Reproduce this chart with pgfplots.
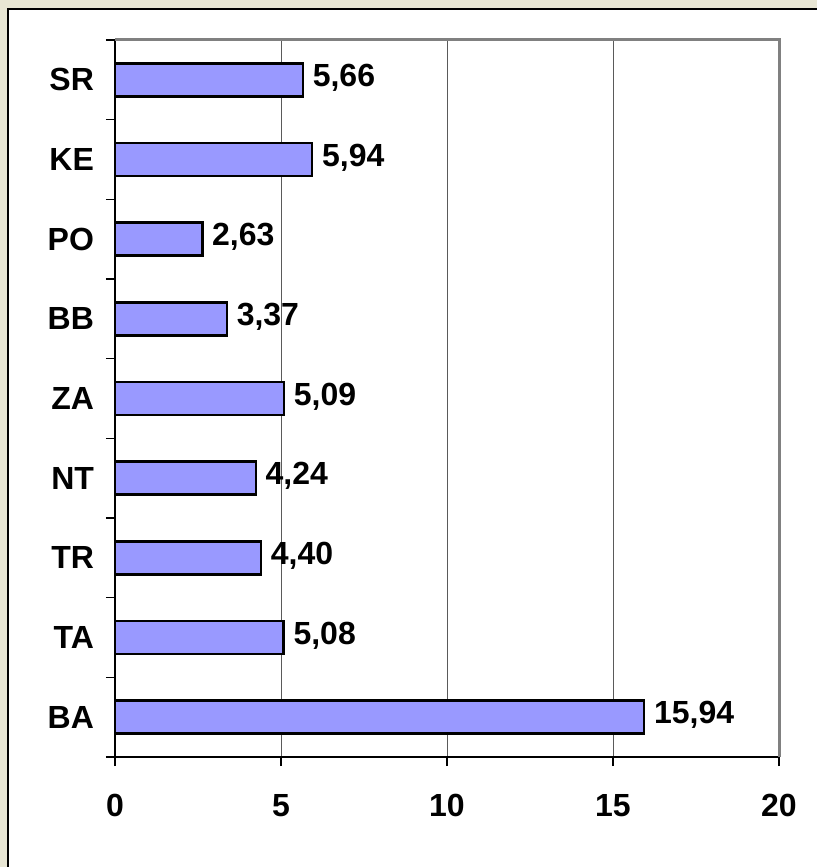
\documentclass[border=0pt]{standalone}
\usepackage{pgfplots}
\pgfplotsset{compat=1.18}
\usepackage{fontspec}
\setmainfont{Liberation Sans}
\definecolor{bgbeige}{RGB}{232,230,212}
\definecolor{barfill}{RGB}{153,153,255}
\definecolor{gridgray}{RGB}{90,90,90}
\definecolor{framegray}{RGB}{128,128,128}
\newcommand\lbl{\fontsize{16}{19}\selectfont\bfseries}
\begin{document}
\begin{tikzpicture}
% slide background and white chart box
\fill[bgbeige] (-57.5pt,-55pt) rectangle (351pt,378.5pt);
\fill[white] (-53.5pt,-55pt) rectangle (351pt,374pt);
\draw[black,line width=0.9pt] (-53.5pt,-56pt) -- (-53.5pt,374pt) -- (352pt,374pt);
\begin{axis}[at={(0,0)},anchor=south west,scale only axis,width=332pt,height=358.5pt,
  xbar,bar width=16.5pt,xmin=0,xmax=20,ymin=-0.5,ymax=8.5,
  xtick={0,5,10,15,20},ytick={-0.5,0.5,...,8.5},yticklabels={},
  extra y ticks={0,1,2,3,4,5,6,7,8},
  extra y tick labels={BA,TA,TR,NT,ZA,BB,PO,KE,SR},
  extra y tick style={major tick length=0pt,yticklabel style={xshift=-7pt}},
  axis x line*=bottom,axis y line*=left,axis line style={black,line width=1pt,-},
  tick align=outside,major tick length=4.5pt,tick style={black,line width=0.8pt},
  xmajorgrids,grid style={gridgray,line width=0.5pt},
  tick label style={font=\lbl},
  /pgf/number format/assume math mode=true,
  xticklabel style={yshift=-10.5pt},
  nodes near coords={\pgfmathprintnumber[fixed,fixed zerofill,precision=2,use comma]{\pgfplotspointmeta}},
  nodes near coords style={font=\lbl,black,anchor=west,xshift=1pt,yshift=1pt},
  clip=false]
\addplot[fill=barfill,draw=black,line width=1.2pt] coordinates {
  (15.94,0) (5.08,1) (4.40,2) (4.24,3) (5.09,4) (3.37,5) (2.63,6) (5.94,7) (5.66,8)};
\draw[framegray,line width=1.5pt] (axis cs:0,8.5) -- (axis cs:20,8.5) -- (axis cs:20,-0.5);
\end{axis}
\pgfresetboundingbox
\path (-57.5pt,-55pt) rectangle (351pt,378.5pt);
\end{tikzpicture}
\end{document}
